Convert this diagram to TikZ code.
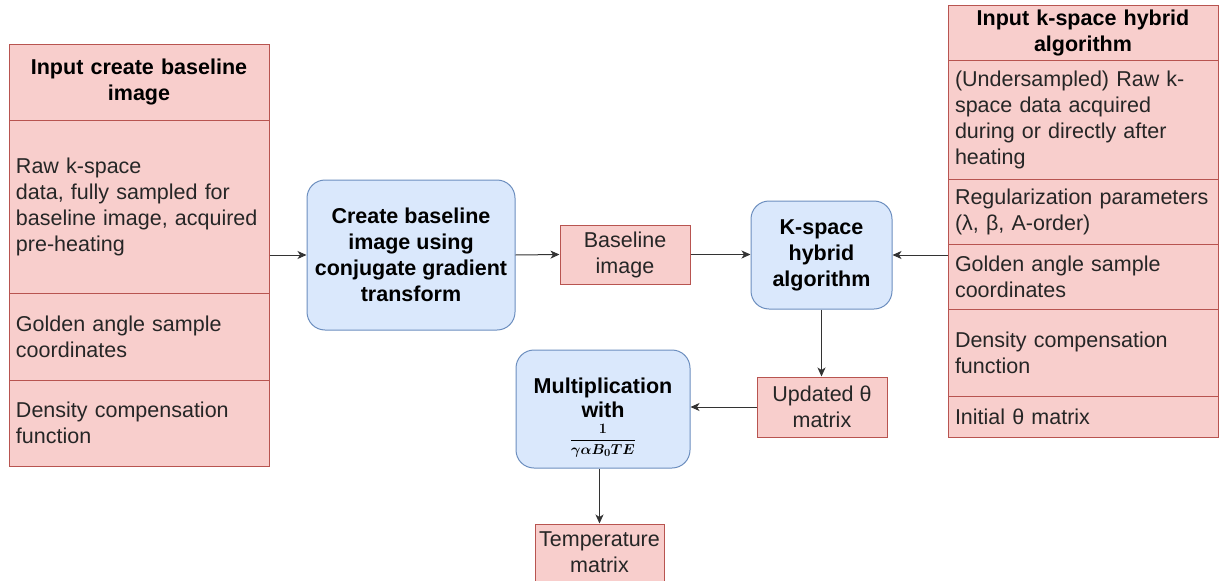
\documentclass[tikz,border=0pt]{standalone}
\usepackage{fontspec}
\setmainfont{Liberation Sans}
\usetikzlibrary{arrows.meta}
\definecolor{pinkfill}{HTML}{F8CECC}
\definecolor{pinkline}{HTML}{B85450}
\definecolor{bluefill}{HTML}{DAE8FC}
\definecolor{blueline}{HTML}{6C8EBF}
\definecolor{txt}{HTML}{262626}
\definecolor{conn}{HTML}{333333}
\begin{document}
\begin{tikzpicture}[x=1pt,y=-1pt,
  base/.style={font=\fontsize{21.5}{26}\selectfont, text=txt, line width=1pt},
  pinkrow/.style={base, draw=pinkline, fill=pinkfill, rectangle, inner xsep=7pt, inner ysep=0pt, align=left},
  pinkhead/.style={pinkrow, align=center, font=\fontsize{21.5}{26}\selectfont\bfseries, text=black},
  pinkbox/.style={base, draw=pinkline, fill=pinkfill, rectangle, inner sep=0pt, align=center},
  bluebox/.style={base, draw=blueline, fill=bluefill, rounded corners=18pt, inner sep=0pt, align=center, font=\fontsize{21.5}{26}\selectfont\bfseries, text=black},
  conn/.style={draw=conn, line width=1pt, -{Stealth[length=9pt,width=8pt,inset=2.5pt]}}
]
\useasboundingbox (0,0) rectangle (1219,581);

% left list
\node[pinkhead, text width=246pt, minimum height=76pt] (lh) at (139,82) {Input create baseline\\image};
\node[pinkrow, text width=246pt, minimum height=173pt] (l1) at (139,206.5) {Raw k-space\\data, fully sampled for\\baseline image, acquired\\pre-heating};
\node[pinkrow, text width=246pt, minimum height=87pt] (l2) at (139,336.5) {Golden angle sample\\coordinates};
\node[pinkrow, text width=246pt, minimum height=86pt] (l3) at (139,423) {Density compensation\\function};

% right list
\node[pinkhead, text width=256pt, minimum height=55pt] (rh) at (1083,32.5) {Input k-space hybrid\\algorithm};
\node[pinkrow, text width=256pt, minimum height=119pt] (r1) at (1083,119.5) {(Undersampled) Raw k-\\space data acquired\\during or directly after\\heating};
\node[pinkrow, text width=256pt, minimum height=65pt] (r2) at (1083,211.5) {Regularization parameters\\(λ, β, A-order)};
\node[pinkrow, text width=256pt, minimum height=65pt] (r3) at (1083,276.5) {Golden angle sample\\coordinates};
\node[pinkrow, text width=256pt, minimum height=87pt] (r4) at (1083,352.5) {Density compensation\\function};
\node[pinkrow, text width=256pt, minimum height=41pt] (r5) at (1083,416.5) {Initial θ matrix};

% process boxes
\node[bluebox, minimum width=208pt, minimum height=150pt] (cb) at (411,255) {Create baseline\\image using\\conjugate gradient\\transform};
\node[pinkbox, minimum width=130pt, minimum height=59pt] (bi) at (625,254.5) {Baseline\\image};
\node[bluebox, minimum width=141pt, minimum height=108pt] (ks) at (821.5,255) {K-space\\hybrid\\algorithm};
\node[pinkbox, minimum width=130pt, minimum height=60pt] (up) at (822,407) {Updated θ\\matrix};
\node[bluebox, minimum width=174pt, minimum height=118pt] (mu) at (603,409) {};
\node[font=\fontsize{21.5}{24}\selectfont\bfseries, align=center, inner sep=0pt, anchor=north] (mut) at (603,378) {Multiplication\\with\\[2pt]{\fontsize{15}{15}\selectfont\boldmath$\displaystyle\frac{1}{\gamma\alpha B_0TE}$}};
\node[pinkbox, minimum width=129pt, minimum height=57pt] (tm) at (599.5,552.5) {Temperature\\matrix};

% connectors
\draw[conn] (cb.west -| l1.east) -- (cb.west);
\draw[conn] (cb.east) -- (bi.west);
\draw[conn] (bi.east) -- (bi.east -| ks.west);
\draw[conn] (ks.east -| r2.west) -- (ks.east);
\draw[conn] (ks.south) -- (ks.south |- up.north);
\draw[conn] (up.west) -- (up.west -| mu.east);
\draw[conn] (tm.north |- mu.south) -- (tm.north);
\end{tikzpicture}
\end{document}
